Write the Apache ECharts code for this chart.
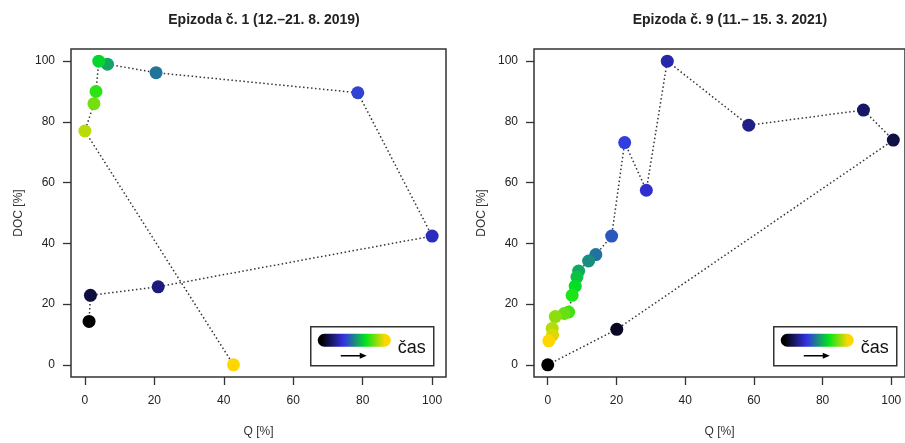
<!DOCTYPE html>
<html>
<head>
<meta charset="utf-8">
<script src="https://cdn.jsdelivr.net/npm/echarts@6/dist/echarts.min.js"></script>
<style>
    html, body { margin: 0; padding: 0; background: #fff; }
    #chart { width: 905px; height: 443px; }
</style>
</head>
<body>
<div id="chart"></div>
<script>
// epizoda 1 - body v casovem poradi
var q1 = [1.2, 1.6, 21.1, 100, 78.6, 20.5, 6.5, 4.0, 3.2, 2.6, 0, 42.8];
var doc1 = [14.3, 22.9, 25.7, 42.4, 89.6, 96.2, 99.0, 100, 90.0, 86.0, 77.0, 0];
// epizoda 9
var q9 = [0, 20.1, 100.6, 91.9, 58.5, 34.8, 28.7, 22.4, 18.6, 14.0, 11.9, 9.0, 8.5, 8.0, 7.1, 6.1, 4.8, 2.2, 1.3, 1.4, 0.3];
var doc9 = [0, 11.7, 74.0, 83.9, 78.9, 100, 57.5, 73.2, 42.4, 36.3, 34.2, 30.9, 28.9, 25.9, 22.9, 17.4, 16.9, 15.9, 12.0, 9.8, 7.9];
var ticks = [0, 20, 40, 60, 80, 100];
var titles = ['Epizoda č. 1 (12.–21. 8. 2019)', 'Epizoda č. 9 (11.– 15. 3. 2021)'];

var timeColors = ['#000000', '#3434e6', '#00e61a', '#ffd700'];
var font = 'Liberation Sans, Arial, sans-serif';

function pairs(q, d) {
    return q.map(function (v, i) { return [v, d[i]]; });
}
function withTime(q, d) {
    return q.map(function (v, i) { return [v, d[i], i]; });
}

function xAx(idx) {
    return {
        type: 'value', gridIndex: idx, min: -4, max: 104,
        name: 'Q [%]', nameLocation: 'middle', nameGap: 49,
        nameTextStyle: { color: '#333', fontSize: 12, fontFamily: font },
        axisLine: { show: false, onZero: false },
        axisTick: { show: true, inside: false, length: 8, customValues: ticks, lineStyle: { color: '#333', width: 1.3 } },
        axisLabel: { customValues: ticks, margin: 18, color: '#222', fontSize: 12, fontFamily: font },
        splitLine: { show: false }
    };
}
function yAx(idx) {
    return {
        type: 'value', gridIndex: idx, min: -4, max: 104,
        name: 'DOC [%]', nameLocation: 'middle', nameGap: 46,
        nameTextStyle: { color: '#333', fontSize: 12, fontFamily: font },
        axisLine: { show: false, onZero: false },
        axisTick: { show: true, inside: false, length: 8, customValues: ticks, lineStyle: { color: '#333', width: 1.3 } },
        axisLabel: { customValues: ticks, margin: 16, color: '#222', fontSize: 12, fontFamily: font },
        splitLine: { show: false }
    };
}
function pathSeries(idx, q, d) {
    return {
        type: 'line', xAxisIndex: idx, yAxisIndex: idx,
        data: pairs(q, d), showSymbol: false, silent: true, z: 1,
        lineStyle: { color: '#333', width: 1.5, type: [1.5, 2.5] }
    };
}
function dotSeries(idx, q, d) {
    return {
        type: 'scatter', xAxisIndex: idx, yAxisIndex: idx,
        data: withTime(q, d), symbolSize: 13, z: 3,
        itemStyle: { opacity: 1, borderWidth: 0 }
    };
}
function legendBox(x, y) {
    return {
        type: 'group', left: x, top: y,
        children: [
            { type: 'rect', shape: { x: 0, y: 0, width: 123, height: 39 },
              style: { fill: '#fff', stroke: '#333', lineWidth: 1.5 } },
            { type: 'rect', shape: { x: 7, y: 7, width: 73, height: 13, r: 6.5 },
              style: { fill: new echarts.graphic.LinearGradient(0, 0, 1, 0, [
                  { offset: 0.05, color: timeColors[0] },
                  { offset: 0.36, color: timeColors[1] },
                  { offset: 0.66, color: timeColors[2] },
                  { offset: 0.92, color: timeColors[3] }
              ]) } },
            { type: 'line', shape: { x1: 30, y1: 29, x2: 51, y2: 29 },
              style: { stroke: '#000', lineWidth: 1.5 } },
            { type: 'polygon', shape: { points: [[56, 29], [49, 26], [49, 32]] },
              style: { fill: '#000' } },
            { type: 'text', x: 87, y: 21,
              style: { text: 'čas', fill: '#111', fontSize: 18, fontFamily: font, verticalAlign: 'middle' } }
        ]
    };
}

var chart = echarts.init(document.getElementById('chart'));
chart.setOption({
    backgroundColor: '#fff',
    animation: false,
    title: [
        { text: titles[0], left: 259, top: 8, textAlign: 'center',
          textStyle: { fontSize: 14, fontWeight: 'bold', color: '#222', fontFamily: font } },
        { text: titles[1], left: 725, top: 8, textAlign: 'center',
          textStyle: { fontSize: 14, fontWeight: 'bold', color: '#222', fontFamily: font } }
    ],
    grid: [
        { left: 71, top: 49, width: 375, height: 329, show: true, borderColor: '#333', borderWidth: 1.5, backgroundColor: 'transparent' },
        { left: 534, top: 49, width: 373, height: 329, show: true, borderColor: '#333', borderWidth: 1.5, backgroundColor: 'transparent' }
    ],
    xAxis: [xAx(0), xAx(1)],
    yAxis: [yAx(0), yAx(1)],
    visualMap: [
        { show: false, type: 'continuous', seriesIndex: 2, dimension: 2, min: 0, max: q1.length - 1,
          inRange: { color: timeColors } },
        { show: false, type: 'continuous', seriesIndex: 3, dimension: 2, min: 0, max: q9.length - 1,
          inRange: { color: timeColors } }
    ],
    series: [
        pathSeries(0, q1, doc1),
        pathSeries(1, q9, doc9),
        dotSeries(0, q1, doc1),
        dotSeries(1, q9, doc9)
    ],
    graphic: [legendBox(310, 326), legendBox(773, 326)]
});
</script>
</body>
</html>
